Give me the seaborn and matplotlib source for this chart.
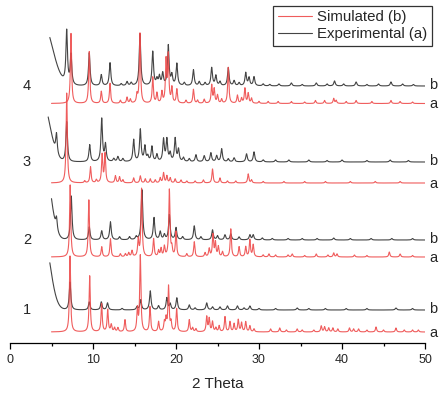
import numpy as np
import matplotlib
matplotlib.use("Agg")
import matplotlib.pyplot as plt
import seaborn as sns

# ── Data ───────────────────────────────────────────────────────
# peak positions (2 theta) and heights above each trace's baseline
P1_EXP_POS = [7.23, 9.55, 11.0, 11.75, 13.5, 15.3, 15.75, 16.9, 17.9, 18.9, 19.3, 20.1, 21.6, 22.3,
              23.7, 24.4, 25.3, 26.2, 27.4, 28.2, 28.9, 30.0, 32.0, 34.6, 36.0, 38.0, 40.5, 43.0, 46.5, 48.5]
P1_EXP_INT = [28, 8, 8, 7, 1.5, 3, 10, 19, 4, 12, 6, 12, 5, 2,
              7, 3, 3, 4, 4, 2, 4, 1.5, 1.5, 2, 1.5, 1.5, 1.5, 1.5, 2, 1.5]
P1_SIM_POS = [7.23, 9.6, 11.04, 11.77, 12.2, 12.6, 13.0, 13.85, 15.35, 15.7, 16.87, 17.9, 18.6, 18.8,
              19.1, 19.4, 20.08, 21.6, 22.0, 22.4, 23.7, 24.0, 24.4, 24.8, 25.2, 25.9, 26.5, 27.0,
              27.5, 27.9, 28.4, 28.9, 29.4, 31.4, 32.5, 33.3, 34.6, 35.2, 36.6, 37.5, 37.9, 38.4,
              38.9, 39.5, 40.9, 41.4, 42.0, 43.0, 44.1, 45.0, 46.5, 47.5, 48.5, 49.2]
P1_SIM_INT = [76, 56, 28, 22, 7, 4, 4, 12, 22, 76, 25, 10, 9, 12,
              45, 9, 23, 12, 4, 3, 15, 13, 10, 4, 6, 15, 10, 8,
              12, 9, 10, 6, 3, 3, 4, 2, 3, 2, 2, 6, 5, 4,
              4, 3, 4, 3, 3, 2, 5, 2, 4, 2, 2, 2]

P2_EXP_POS = [5.6, 7.38, 9.55, 11.05, 12.1, 13.2, 14.4, 15.2, 15.9, 17.35, 18.1, 18.6, 19.2, 20.0,
              20.8, 22.2, 23.0, 24.4, 25.0, 25.9, 26.6, 27.6, 28.9, 29.3, 30.4, 31.6, 33.5, 35.2,
              37.0, 39.0, 41.0, 43.5, 46.0, 48.5]
P2_EXP_INT = [12, 44, 13, 9, 18, 3, 3, 3, 50, 22, 8, 5, 25, 12,
              3, 14, 3, 10, 4, 5, 6, 3, 5, 5, 2, 1.5, 1.5, 1.5,
              1.5, 2, 1.5, 1.5, 1.5, 1.5]
P2_SIM_POS = [7.25, 9.5, 11.05, 12.1, 13.3, 13.9, 14.3, 14.7, 15.45, 15.85, 17.3, 17.9, 18.2, 18.6,
              19.2, 19.5, 20.0, 21.3, 22.2, 23.5, 24.0, 24.45, 24.75, 25.1, 25.6, 26.6, 27.6, 28.4,
              28.9, 29.3, 30.5, 31.2, 32.0, 33.5, 34.0, 35.5, 36.9, 38.3, 39.0, 39.4, 41.5, 43.0,
              45.7, 47.0, 48.5]
P2_SIM_INT = [72, 57, 10, 18, 3, 3, 4, 6, 17, 68, 18, 6, 8, 10,
              67, 8, 25, 3, 15, 4, 8, 22, 14, 10, 5, 28, 10, 10,
              17, 12, 2, 3, 2, 2, 3, 1.5, 3, 2, 4, 3, 2, 1.5,
              5, 3, 1.5]

P3_EXP_POS = [5.6, 6.83, 9.6, 11.05, 11.5, 12.5, 13.0, 13.6, 14.9, 15.7, 16.25, 16.6, 17.1, 17.7,
              18.5, 18.9, 19.3, 19.9, 20.3, 20.9, 21.6, 22.4, 23.4, 24.2, 24.9, 25.5, 26.3, 27.0,
              28.5, 29.4, 30.5, 32.0, 33.6, 36.0, 38.2, 40.0, 43.0, 45.8, 48.0]
P3_EXP_INT = [20, 40, 17, 43, 17, 3, 5, 3, 22, 32, 15, 5, 15, 7,
              22, 22, 8, 23, 12, 4, 3, 7, 6, 9, 6, 13, 3, 4,
              8, 10, 2, 2, 2, 2, 1.5, 2, 1.5, 2, 1.5]
P3_SIM_POS = [6.83, 9.0, 9.7, 10.4, 11.1, 11.45, 12.7, 13.2, 13.6, 14.9, 15.7, 16.3, 16.9, 17.5,
              18.1, 18.5, 18.9, 19.3, 19.9, 20.6, 21.3, 22.3, 23.3, 24.4, 25.3, 26.2, 27.2, 28.7,
              29.1, 30.5, 33.0, 35.5, 38.0, 41.0, 44.0, 47.0]
P3_SIM_INT = [90, 2, 16, 3, 28, 29, 7, 6, 3, 5, 7, 4, 4, 3,
              5, 10, 7, 5, 4, 3, 2, 2, 3, 14, 5, 2, 2, 9,
              3, 1.5, 1.5, 1.5, 1.5, 1.5, 1.5, 1.5]

P4_EXP_POS = [6.83, 7.35, 9.55, 11.0, 12.05, 13.4, 14.1, 14.6, 15.66, 17.2, 17.7, 18.0, 18.4, 19.07,
              19.5, 20.1, 21.0, 22.1, 22.8, 23.5, 24.3, 24.8, 25.3, 26.3, 27.0, 27.6, 28.4, 28.8,
              29.4, 30.5, 31.3, 32.4, 33.9, 35.2, 36.9, 38.2, 39.1, 40.2, 41.7, 43.0, 44.4, 45.9,
              47.3, 48.6]
P4_EXP_INT = [53, 30, 33, 11, 23, 2, 4, 3, 52, 34, 6, 9, 12, 40,
              10, 22, 3, 16, 4, 3, 18, 10, 4, 18, 5, 3, 13, 8,
              9, 2, 1.5, 2, 3, 1.5, 3, 2, 5, 2, 4, 1.5, 2, 4,
              2, 1.5]
P4_SIM_POS = [7.35, 9.55, 11.0, 12.05, 13.3, 14.1, 14.5, 15.3, 15.66, 17.2, 17.7, 18.3, 18.8, 19.07,
              19.5, 20.1, 21.2, 22.1, 22.6, 23.4, 24.3, 24.6, 25.0, 25.5, 26.3, 27.4, 27.9, 28.3,
              28.7, 29.1, 30.0, 31.1, 32.3, 33.9, 35.5, 36.8, 37.9, 39.0, 39.3, 40.5, 41.7, 43.6,
              45.9, 47.0, 48.5]
P4_SIM_INT = [70, 52, 12, 20, 3, 6, 4, 8, 70, 26, 10, 11, 42, 47,
              15, 14, 3, 14, 3, 4, 18, 14, 8, 4, 36, 8, 5, 15,
              10, 5, 2, 2, 2, 2, 1.5, 3, 3, 5, 3, 2, 3, 2,
              3, 2, 1.5]

# low-angle background of the measured patterns (amplitude, width)
EXP_BG_AMP = [75, 91, 58, 62]
EXP_BG_WIDTH = [0.83, 0.79, 0.83, 1.13]
EXP_START = [4.8, 5.0, 4.6, 4.8]
SIM_START = 5.0

# vertical offsets of each trace (stacked plot)
SIM_OFFSET = [11, 86, 160, 239.5]
EXP_OFFSET = [33, 103, 181, 257]

PATTERN_LABELS = ["1", "2", "3", "4"]
LEGEND_LABELS = ["Simulated (b)", "Experimental (a)"]

SIM_PEAKS = [(P1_SIM_POS, P1_SIM_INT), (P2_SIM_POS, P2_SIM_INT),
             (P3_SIM_POS, P3_SIM_INT), (P4_SIM_POS, P4_SIM_INT)]
EXP_PEAKS = [(P1_EXP_POS, P1_EXP_INT), (P2_EXP_POS, P2_EXP_INT),
             (P3_EXP_POS, P3_EXP_INT), (P4_EXP_POS, P4_EXP_INT)]

RED = "#ee4b4b"
BLACK = "#444444"


def profile(x, pos, hgt, hwhm):
    pos = np.asarray(pos)[:, None]
    hgt = np.asarray(hgt)[:, None]
    return (hgt / (1 + ((x[None, :] - pos) / hwhm) ** 2)).sum(axis=0)


sns.set_theme(style="white")
plt.rcParams["font.family"] = ["Liberation Sans", "DejaVu Sans"]

fig = plt.figure(figsize=(4.46, 3.94), dpi=100)
ax = fig.add_axes([10 / 446, 51 / 394, 415 / 446, 343 / 394])

for i in range(4):
    xe = np.linspace(EXP_START[i], 50, 5000)
    ye = EXP_OFFSET[i] + profile(xe, *EXP_PEAKS[i], 0.11) \
        + EXP_BG_AMP[i] * np.exp(-0.5 * ((xe - 4.0) / EXP_BG_WIDTH[i]) ** 2)
    sns.lineplot(x=xe, y=ye, ax=ax, color=BLACK, linewidth=0.8,
                 estimator=None, sort=False, label=LEGEND_LABELS[1] if i == 0 else None)

for i in range(4):
    xs = np.linspace(SIM_START, 50, 5000)
    ys = SIM_OFFSET[i] + profile(xs, *SIM_PEAKS[i], 0.085)
    sns.lineplot(x=xs, y=ys, ax=ax, color=RED, linewidth=0.8, alpha=0.9,
                 estimator=None, sort=False, label=LEGEND_LABELS[0] if i == 0 else None)

for i in range(4):
    ax.text(2.05, EXP_OFFSET[i], PATTERN_LABELS[i], fontsize=10.5, ha="center", va="center")
    ax.text(51.0, EXP_OFFSET[i] + 1, "b", fontsize=10.5, ha="center", va="center")
    ax.text(51.0, SIM_OFFSET[i] - 1, "a", fontsize=10.5, ha="center", va="center")

ax.set_xlim(0, 50)
ax.set_ylim(0, 343)
ax.set_yticks([])
ax.set_xticks([0, 10, 20, 30, 40, 50])
ax.set_xticks([5, 15, 25, 35, 45], minor=True)
ax.tick_params(axis="x", which="major", direction="out", length=4, width=0.9,
               labelsize=9, pad=4, bottom=True, color="black")
ax.tick_params(axis="x", which="minor", direction="out", length=2.5, width=0.9,
               bottom=True, color="black")
for side in ["left", "right", "top"]:
    ax.spines[side].set_visible(False)
ax.spines["bottom"].set_color("black")
ax.spines["bottom"].set_linewidth(0.9)
ax.set_xlabel("2 Theta", fontsize=11, labelpad=8)
ax.set_facecolor("none")

handles, labels = ax.get_legend_handles_labels()
order = [labels.index(LEGEND_LABELS[0]), labels.index(LEGEND_LABELS[1])]
leg = ax.legend([handles[k] for k in order], [labels[k] for k in order],
                loc="upper right", bbox_to_anchor=(432 / 446, 1 - 5.7 / 394),
                bbox_transform=fig.transFigure, borderaxespad=0,
                fontsize=10.8, frameon=True, fancybox=False, edgecolor="black",
                handlelength=2.3, handletextpad=0.35, labelspacing=0.2, borderpad=0.3)
leg.get_frame().set_linewidth(0.9)

fig.savefig("out.png", dpi=100)
